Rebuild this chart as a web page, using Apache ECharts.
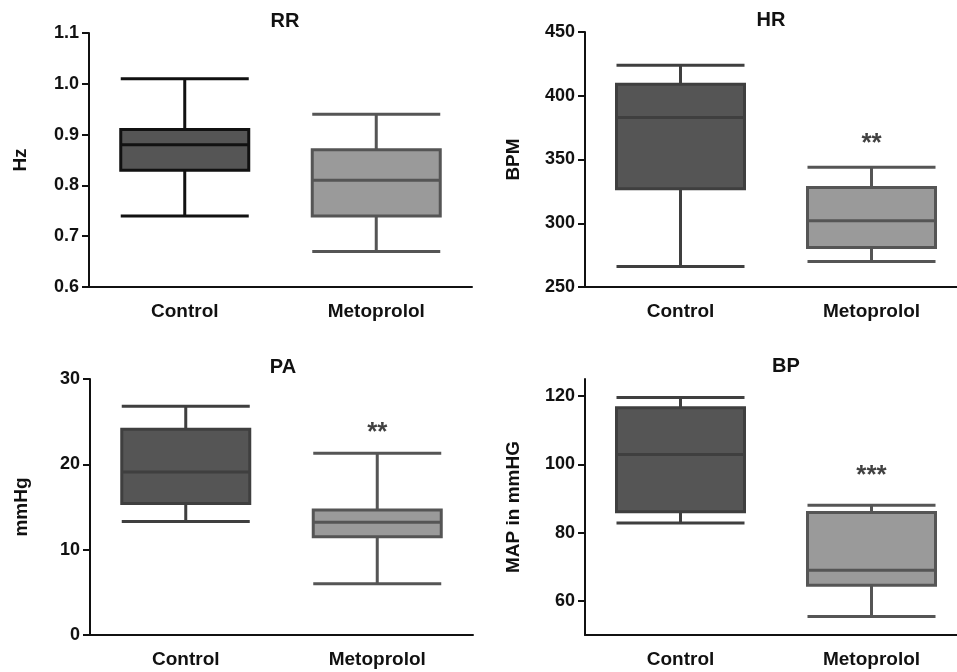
<!DOCTYPE html>
<html><head><meta charset="utf-8">
<script src="https://cdn.jsdelivr.net/npm/echarts@6/dist/echarts.min.js"></script>
<style>html,body{margin:0;padding:0;background:#fff;overflow:hidden}#c{width:968px;height:672px}</style>
</head><body><div id="c"></div>
<script>
// ---- data ----
const groups = ['Control', 'Metoprolol'];
const panelTitles = ['RR', 'HR', 'PA', 'BP'];
const yNames = ['Hz', 'BPM', 'mmHg', 'MAP in mmHG'];
// [low whisker, Q1, median, Q3, high whisker]
const rrControl = [0.74, 0.83, 0.88, 0.91, 1.01];
const rrMeto = [0.67, 0.74, 0.81, 0.87, 0.94];
const hrControl = [266, 327, 383, 409, 424];
const hrMeto = [270, 281, 302, 328, 344];
const paControl = [13.3, 15.4, 19.1, 24.1, 26.8];
const paMeto = [6.0, 11.5, 13.2, 14.65, 21.3];
const bpControl = [82.8, 86.1, 102.9, 116.6, 119.6];
const bpMeto = [55.4, 64.6, 69.0, 85.9, 88.0];
// significance marks: [category, value, text]
const hrSig = ['Metoprolol', 365, '**'];
const paSig = ['Metoprolol', 24.0, '**'];
const bpSig = ['Metoprolol', 97.5, '***'];
// axis ranges
const rrAxis = {min: 0.6, max: 1.1, interval: 0.1};
const hrAxis = {min: 250, max: 450, interval: 50};
const paAxis = {min: 0, max: 30, interval: 10};
const bpAxis = {min: 50, max: 125, ticks: [60, 80, 100, 120]};

const FONT = 'Liberation Sans, Arial, sans-serif';
const grids = [
  {left: 89, top: 33, width: 383, height: 254},
  {left: 585, top: 32, width: 382, height: 255},
  {left: 90, top: 379, width: 383, height: 256},
  {left: 585, top: 379, width: 382, height: 256}
];
const nameGaps = [59, 62, 59, 62];
const controlBorders = ['#111111', '#3f3f3f', '#3f3f3f', '#3f3f3f'];
const panelData = [[rrControl, rrMeto], [hrControl, hrMeto], [paControl, paMeto], [bpControl, bpMeto]];
const axes = [rrAxis, hrAxis, paAxis, bpAxis];
const sigs = [null, hrSig, paSig, bpSig];
const titlePos = [[285, 21], [771, 20], [283, 367], [786, 366]];

const option = {
  animation: false,
  backgroundColor: '#fff',
  grid: grids.map(g => Object.assign({containLabel: false}, g)),
  xAxis: grids.map((g, i) => ({
    type: 'category', gridIndex: i, data: groups,
    axisLine: {lineStyle: {color: '#111', width: 2}},
    axisTick: {alignWithLabel: true, length: 7, lineStyle: {color: '#111', width: 2}},
    axisLabel: {color: '#111', fontFamily: FONT, fontWeight: 'bold', fontSize: 19, margin: 15},
    splitLine: {show: false}
  })),
  yAxis: axes.map((a, i) => {
    const ax = {
      type: 'value', gridIndex: i, min: a.min, max: a.max,
      name: yNames[i], nameLocation: 'middle', nameGap: nameGaps[i], nameRotate: 90,
      nameTextStyle: {color: '#111', fontFamily: FONT, fontWeight: 'bold', fontSize: 19},
      axisLine: {show: true, lineStyle: {color: '#111', width: 2}},
      axisTick: {show: true, length: 7, lineStyle: {color: '#111', width: 2}},
      axisLabel: {color: '#111', fontFamily: FONT, fontWeight: 'bold', fontSize: 18, margin: 10,
        formatter: v => (i === 0 ? v.toFixed(1) : String(v))},
      splitLine: {show: false}
    };
    if (a.interval) ax.interval = a.interval;
    if (a.ticks) {
      ax.axisLabel.customValues = a.ticks;
      ax.axisTick.customValues = a.ticks;
    }
    return ax;
  }),
  series: [],
  graphic: panelTitles.map((t, i) => ({
    type: 'text', x: titlePos[i][0], y: titlePos[i][1],
    style: {text: t, textAlign: 'center', textVerticalAlign: 'middle',
      font: 'bold 20px ' + FONT, fill: '#111'}
  }))
};

panelData.forEach((pd, i) => {
  option.series.push({
    type: 'boxplot', xAxisIndex: i, yAxisIndex: i,
    boxWidth: [128, 128],
    data: [
      {value: pd[0], itemStyle: {color: '#555555', borderColor: controlBorders[i], borderWidth: 3}},
      {value: pd[1], itemStyle: {color: '#9a9a9a', borderColor: '#555555', borderWidth: 3}}
    ]
  });
  if (sigs[i]) {
    option.series.push({
      type: 'scatter', xAxisIndex: i, yAxisIndex: i, symbolSize: 0,
      data: [[sigs[i][0], sigs[i][1]]],
      label: {show: true, position: 'inside', formatter: sigs[i][2], offset: [0, 3],
        color: '#111', fontFamily: FONT, fontWeight: 'bold', fontSize: 26}
    });
  }
});

const chart = echarts.init(document.getElementById('c'), null, {renderer: 'canvas'});
chart.setOption(option);
</script></body></html>
